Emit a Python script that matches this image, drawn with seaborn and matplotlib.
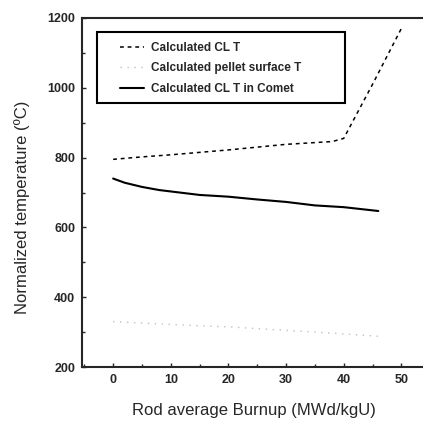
import matplotlib
matplotlib.use("Agg")
import matplotlib.pyplot as plt
import seaborn as sns
import pandas as pd
from matplotlib.ticker import MultipleLocator
from matplotlib.patches import Rectangle

# Data
cl_x = [0, 5, 10, 15, 20, 25, 30, 35, 38, 40, 45, 50]
cl_y = [795, 802, 808, 815, 822, 830, 838, 843, 846, 855, 1010, 1170]

surf_x = [0, 5, 10, 15, 20, 25, 30, 35, 38, 46]
surf_y = [330, 326, 322, 318, 315, 310, 305, 300, 297, 288]

comet_x = [0, 2, 5, 8, 10, 15, 20, 25, 30, 35, 40, 46]
comet_y = [740, 728, 716, 707, 703, 693, 688, 680, 673, 663, 658, 647]

labels = ["Calculated CL T", "Calculated pellet surface T", "Calculated CL T in Comet"]

sns.set_style("ticks")
plt.rcParams['font.family'] = ['Liberation Sans', 'DejaVu Sans']

fig = plt.figure(figsize=(4.23, 4.24), dpi=100)
ax = fig.add_axes([82/423, 1-367/424, (425-82)/423, (367-18)/424])

df_cl = pd.DataFrame({"x": cl_x, "y": cl_y})
df_surf = pd.DataFrame({"x": surf_x, "y": surf_y})
df_comet = pd.DataFrame({"x": comet_x, "y": comet_y})

sns.lineplot(data=df_cl, x="x", y="y", ax=ax, color="black", linestyle=(0, (2.5, 2.5)),
             linewidth=1.1, label=labels[0])
sns.lineplot(data=df_surf, x="x", y="y", ax=ax, color="#c0c0c0", linestyle=(0, (1, 4)),
             linewidth=1.0, label=labels[1])
sns.lineplot(data=df_comet, x="x", y="y", ax=ax, color="black", linestyle="-",
             linewidth=1.5, label=labels[2])

ax.set_xlim(-5.4, 54.1)
ax.set_ylim(200, 1200)
ax.xaxis.set_major_locator(MultipleLocator(10))
ax.xaxis.set_minor_locator(MultipleLocator(5))
ax.yaxis.set_major_locator(MultipleLocator(200))
ax.yaxis.set_minor_locator(MultipleLocator(100))
ax.tick_params(which="both", direction="in", width=1.0)
ax.tick_params(which="major", length=3, labelsize=9, pad=5)
ax.tick_params(which="minor", length=2)
for lab in ax.get_xticklabels() + ax.get_yticklabels():
    lab.set_fontweight("bold")
for s in ax.spines.values():
    s.set_linewidth(1.5)
ax.spines["right"].set_visible(False)

ax.set_xlabel("Rod average Burnup (MWd/kgU)", fontsize=12, labelpad=12)
ax.set_ylabel("Normalized temperature (ºC)", fontsize=12)
ax.yaxis.set_label_coords((30-82)/343, (367-207)/349)

# legend frame box
box = Rectangle(((97-82)/343, (367-103)/349), (345-97)/343, (103-32)/349,
                transform=ax.transAxes, fill=False, edgecolor="black", linewidth=1.5,
                zorder=5)
ax.add_patch(box)
leg = ax.legend(loc="upper left", bbox_to_anchor=((120-82)/343, (367-42)/349), frameon=False,
                prop={"weight": "bold", "size": 8.5}, handlelength=2.0,
                handletextpad=0.6, borderpad=0.0, borderaxespad=0.0, labelspacing=0.72)

fig.savefig("out.png", dpi=100)
